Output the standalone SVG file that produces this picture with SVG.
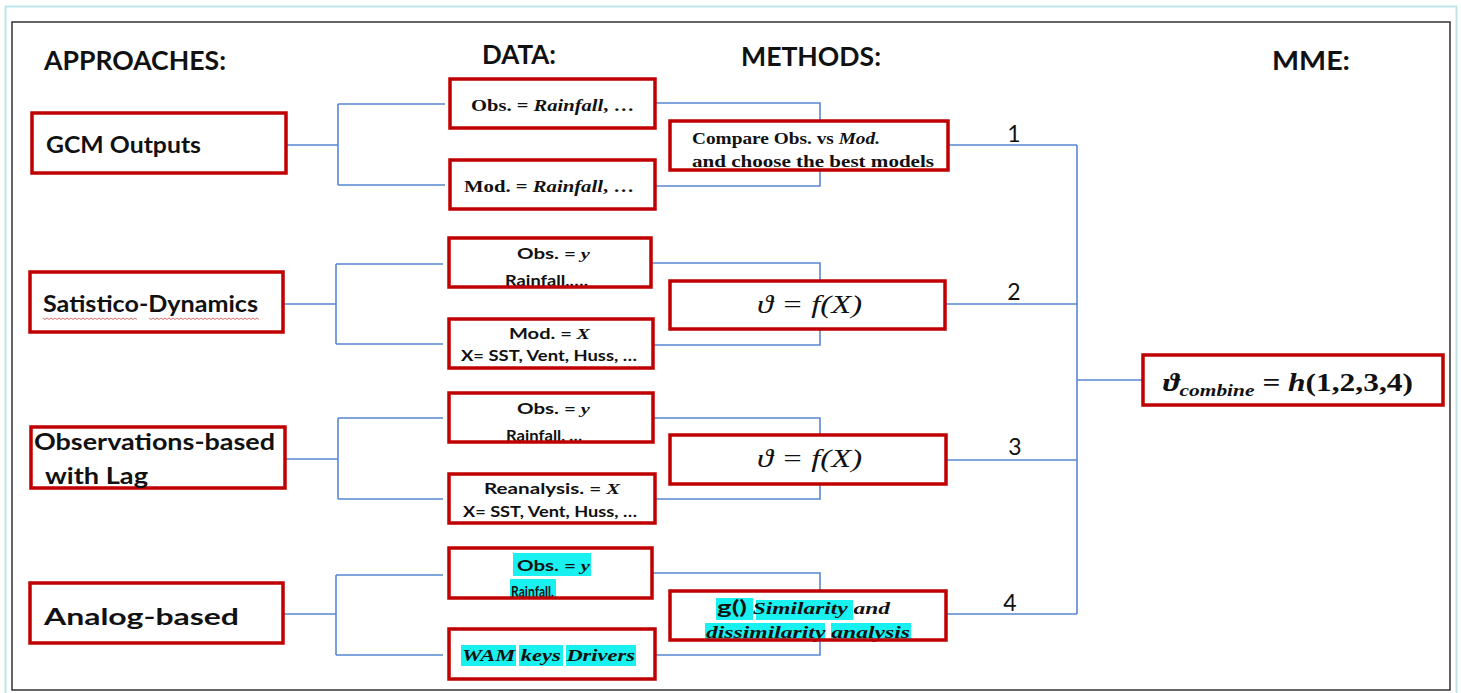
<svg xmlns="http://www.w3.org/2000/svg" width="1461" height="693" viewBox="0 0 1461 693">
<style>
.head{font-family:Lato,"Liberation Sans",sans-serif;font-weight:bold;font-size:26px;fill:#111}
.appr{font-family:Lato,"Liberation Sans",sans-serif;font-weight:bold;font-size:22px;fill:#111}
.sans{font-family:Lato,"Liberation Sans",sans-serif;font-weight:bold;font-size:15px;fill:#111}
.serif{font-family:"Liberation Serif","DejaVu Serif",serif;font-weight:bold;font-size:16px;fill:#111}
.math{font-family:"Liberation Serif","DejaVu Serif",serif;font-style:italic;font-size:25px;fill:#111}
.num{font-family:Lato,"Liberation Sans",sans-serif;font-size:23px;fill:#111}
.it{font-style:italic}
.bx{fill:#fff;stroke:none}
.bd{fill:none;stroke:#c00000;stroke-width:3.5}
.hl{fill:#19f0f0}
.conn{fill:none;stroke:#5a87d2;stroke-width:1.6}
.wavy{fill:none;stroke:#e06060;stroke-width:0.9}
</style>
<rect x="0" y="0" width="1461" height="693" fill="#fff"/>
<rect x="5.5" y="6.5" width="1451" height="690" fill="none" stroke="#bfe5ea" stroke-width="2"/>
<rect x="12" y="22" width="1438" height="668" fill="#fff" stroke="#333" stroke-width="1.5"/>

<g id="headings">
<text class="head" x="44" y="70" textLength="182" lengthAdjust="spacingAndGlyphs">APPROACHES:</text>
<text class="head" x="482" y="64" textLength="74" lengthAdjust="spacingAndGlyphs">DATA:</text>
<text class="head" x="741" y="66" textLength="140" lengthAdjust="spacingAndGlyphs">METHODS:</text>
<text class="head" x="1272" y="70" textLength="78" lengthAdjust="spacingAndGlyphs">MME:</text>
</g>

<g id="connectors">
<path class="conn" d="M286,145 H338 M338,104 V185 M338,104 H445 M338,185 H445"/>
<path class="conn" d="M283,304 H336 M336,264 V344 M336,264 H443 M336,344 H443"/>
<path class="conn" d="M285,459 H338 M338,418 V499 M338,418 H443 M338,499 H443"/>
<path class="conn" d="M283,614 H336 M336,575 V655 M336,575 H443 M336,655 H443"/>
<path class="conn" d="M655,103 H820 V126 M655,186 H820 V166"/>
<path class="conn" d="M651,263 H820 V285 M653,345 H820 V325"/>
<path class="conn" d="M653,418 H820 V439 M655,499 H820 V480"/>
<path class="conn" d="M652,573 H820 V595 M655,655 H820 V636"/>
<path class="conn" d="M948,145 H1077 M945,304 H1077 M946,460 H1077 M946,614 H1077 M1077,145 V614 M1077,380 H1143"/>
<text class="num" x="1014" y="142" text-anchor="middle">1</text>
<text class="num" x="1014" y="300" text-anchor="middle">2</text>
<text class="num" x="1015" y="455" text-anchor="middle">3</text>
<text class="num" x="1010" y="611" text-anchor="middle">4</text>
</g>

<g id="approach-gcm">
<rect class="bx" x="32" y="113" width="254" height="60"/>
<rect class="bd" x="32" y="113" width="254" height="60" stroke-width="2.5"/>
<text class="appr" x="46" y="153" textLength="155" lengthAdjust="spacingAndGlyphs">GCM Outputs</text>
</g>
<g id="approach-statdyn">
<rect class="bx" x="30" y="272" width="253" height="60"/>
<rect class="bd" x="30" y="272" width="253" height="60" stroke-width="2.5"/>
<text class="appr" x="43" y="312" textLength="215" lengthAdjust="spacingAndGlyphs">Satistico-Dynamics</text>
<path class="wavy" d="M43,318 l2,1.5 l2,-1.5 l2,1.5 l2,-1.5 l2,1.5 l2,-1.5 l2,1.5 l2,-1.5 l2,1.5 l2,-1.5 l2,1.5 l2,-1.5 l2,1.5 l2,-1.5 l2,1.5 l2,-1.5 l2,1.5 l2,-1.5 l2,1.5 l2,-1.5 l2,1.5 l2,-1.5 l2,1.5 l2,-1.5 l2,1.5 l2,-1.5 l2,1.5 l2,-1.5 l2,1.5 l2,-1.5 l2,1.5 l2,-1.5 l2,1.5 l2,-1.5 l2,1.5 l2,-1.5 l2,1.5 l2,-1.5 l2,1.5 l2,-1.5 l2,1.5 l2,-1.5 l2,1.5 l2,-1.5 l2,1.5 l2,-1.5 l2,1.5 M149,318 l2,1.5 l2,-1.5 l2,1.5 l2,-1.5 l2,1.5 l2,-1.5 l2,1.5 l2,-1.5 l2,1.5 l2,-1.5 l2,1.5 l2,-1.5 l2,1.5 l2,-1.5 l2,1.5 l2,-1.5 l2,1.5 l2,-1.5 l2,1.5 l2,-1.5 l2,1.5 l2,-1.5 l2,1.5 l2,-1.5 l2,1.5 l2,-1.5 l2,1.5 l2,-1.5 l2,1.5 l2,-1.5 l2,1.5 l2,-1.5 l2,1.5 l2,-1.5 l2,1.5 l2,-1.5 l2,1.5 l2,-1.5 l2,1.5 l2,-1.5 l2,1.5 l2,-1.5 l2,1.5 l2,-1.5 l2,1.5 l2,-1.5 l2,1.5 l2,-1.5 l2,1.5 l2,-1.5 l2,1.5 l2,-1.5 l2,1.5 l2,-1.5 l2,1.5"/>
</g>
<g id="approach-obslag">
<rect class="bx" x="31" y="427" width="254" height="61"/>
<rect class="bd" x="31" y="427" width="254" height="61" stroke-width="2.5"/>
<text class="appr" x="34" y="450" textLength="241" lengthAdjust="spacingAndGlyphs">Observations-based</text>
<text class="appr" x="45" y="484" textLength="103" lengthAdjust="spacingAndGlyphs">with Lag</text>
</g>
<g id="approach-analog">
<rect class="bx" x="30" y="583" width="253" height="60"/>
<rect class="bd" x="30" y="583" width="253" height="60" stroke-width="2.5"/>
<text class="appr" x="44" y="625" font-size="28" textLength="195" lengthAdjust="spacingAndGlyphs">Analog-based</text>
</g>

<g id="data-obs1">
<rect class="bx" x="450" y="79" width="205" height="49"/>
<text class="serif" x="471" y="111" textLength="163" lengthAdjust="spacingAndGlyphs">Obs. = <tspan class="it">Rainfall</tspan>, …</text>
<rect class="bd" x="450" y="79" width="205" height="49"/>
</g>
<g id="data-mod1">
<rect class="bx" x="450" y="160" width="205" height="49"/>
<text class="serif" x="464" y="192" textLength="170" lengthAdjust="spacingAndGlyphs">Mod. = <tspan class="it">Rainfall</tspan>, …</text>
<rect class="bd" x="450" y="160" width="205" height="49"/>
</g>
<g id="data-obs2">
<rect class="bx" x="449" y="238" width="202" height="49"/>
<text class="sans" x="517" y="259" textLength="73" lengthAdjust="spacingAndGlyphs">Obs. = <tspan class="it" font-family="Liberation Serif,serif">y</tspan></text>
<text class="sans" x="505" y="286" font-size="14" textLength="83" lengthAdjust="spacingAndGlyphs">Rainfall,….</text>
<rect class="bd" x="449" y="238" width="202" height="49"/>
</g>
<g id="data-mod2">
<rect class="bx" x="449" y="319" width="204" height="49"/>
<text class="sans" x="509" y="339" textLength="81" lengthAdjust="spacingAndGlyphs">Mod. = <tspan class="it" font-family="Liberation Serif,serif">X</tspan></text>
<text class="sans" x="461" y="361" font-size="14" textLength="176" lengthAdjust="spacingAndGlyphs">X= SST, Vent, Huss, …</text>
<rect class="bd" x="449" y="319" width="204" height="49"/>
</g>
<g id="data-obs3">
<rect class="bx" x="449" y="393" width="204" height="49"/>
<text class="sans" x="517" y="414" textLength="73" lengthAdjust="spacingAndGlyphs">Obs. = <tspan class="it" font-family="Liberation Serif,serif">y</tspan></text>
<text class="sans" x="506" y="441" font-size="14" textLength="76" lengthAdjust="spacingAndGlyphs">Rainfall, …</text>
<rect class="bd" x="449" y="393" width="204" height="49"/>
</g>
<g id="data-rean">
<rect class="bx" x="449" y="474" width="206" height="49"/>
<text class="sans" x="484" y="494" textLength="136" lengthAdjust="spacingAndGlyphs">Reanalysis. = <tspan class="it" font-family="Liberation Serif,serif">X</tspan></text>
<text class="sans" x="463" y="517" font-size="14" textLength="174" lengthAdjust="spacingAndGlyphs">X= SST, Vent, Huss, …</text>
<rect class="bd" x="449" y="474" width="206" height="49"/>
</g>
<g id="data-obs4">
<rect class="bx" x="449" y="548" width="203" height="50"/>
<rect class="hl" x="513" y="553" width="78" height="23"/>
<rect class="hl" x="510" y="579" width="46" height="18"/>
<text class="sans" x="517" y="571" textLength="73" lengthAdjust="spacingAndGlyphs">Obs. = <tspan class="it" font-family="Liberation Serif,serif">y</tspan></text>
<text class="sans" x="511" y="597" font-size="14" textLength="43" lengthAdjust="spacingAndGlyphs">Rainfall.</text>
<rect class="bd" x="449" y="548" width="203" height="50"/>
</g>
<g id="data-wam">
<rect class="bx" x="449" y="629" width="206" height="50"/>
<rect class="hl" x="461" y="645" width="55" height="21"/>
<rect class="hl" x="519" y="645" width="44" height="21"/>
<rect class="hl" x="566" y="645" width="70" height="21"/>
<text class="serif it" x="462" y="661" textLength="173" lengthAdjust="spacingAndGlyphs">WAM keys Drivers</text>
<rect class="bd" x="449" y="629" width="206" height="50"/>
</g>

<g id="method-compare">
<rect class="bx" x="670" y="121" width="278" height="49"/>
<text class="serif" x="692" y="144" textLength="188" lengthAdjust="spacingAndGlyphs">Compare Obs. vs <tspan class="it">Mod.</tspan></text>
<text class="serif" x="692" y="167" textLength="242" lengthAdjust="spacingAndGlyphs">and choose the best models</text>
<rect class="bd" x="670" y="121" width="278" height="49"/>
</g>
<g id="method-f1">
<rect class="bx" x="670" y="281" width="275" height="48"/>
<text class="math" x="757" y="313" textLength="105" lengthAdjust="spacingAndGlyphs">ϑ = f(X)</text>
<rect class="bd" x="670" y="281" width="275" height="48"/>
</g>
<g id="method-f2">
<rect class="bx" x="670" y="435" width="276" height="49"/>
<text class="math" x="757" y="467" textLength="105" lengthAdjust="spacingAndGlyphs">ϑ = f(X)</text>
<rect class="bd" x="670" y="435" width="276" height="49"/>
</g>
<g id="method-g">
<rect class="bx" x="670" y="591" width="276" height="49"/>
<rect class="hl" x="716" y="598" width="37" height="22"/>
<rect class="hl" x="756" y="600" width="97" height="20"/>
<rect class="hl" x="705" y="623" width="120" height="18"/>
<rect class="hl" x="831" y="623" width="80" height="18"/>
<text class="serif" x="717" y="614" textLength="173" lengthAdjust="spacingAndGlyphs"><tspan font-family="Lato,Liberation Sans,sans-serif" font-size="19">g()</tspan>  <tspan class="it">Similarity</tspan> <tspan class="it">and</tspan></text>
<text class="serif it" x="706" y="638" textLength="204" lengthAdjust="spacingAndGlyphs">dissimilarity analysis</text>
<rect class="bd" x="670" y="591" width="276" height="49"/>
</g>

<g id="mme">
<rect class="bx" x="1143" y="355" width="300" height="50"/>
<text class="math" x="1163" y="391" font-weight="bold" textLength="250" lengthAdjust="spacingAndGlyphs">ϑ<tspan font-size="17" dy="5">combine</tspan><tspan dy="-5"> = </tspan><tspan>h</tspan><tspan font-style="normal">(1,2,3,4)</tspan></text>
<rect class="bd" x="1143" y="355" width="300" height="50"/>
</g>
</svg>
